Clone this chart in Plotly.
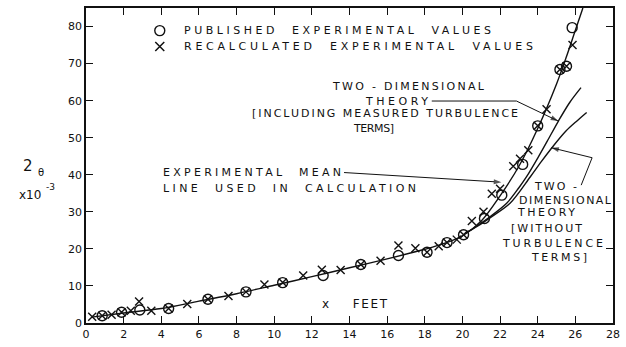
import json
import plotly.graph_objects as go

# ---------------- data ----------------
pub_x = [0.86, 1.89, 2.86, 4.39, 6.48, 8.5, 10.45, 12.6, 14.6, 16.6, 18.12, 19.18,
         20.06, 21.17, 22.09, 23.2, 24.0, 25.18, 25.53, 25.83]
pub_y = [1.95, 2.9, 3.5, 3.9, 6.4, 8.4, 10.9, 12.8, 15.8, 18.2, 19.1, 21.7,
         23.8, 28.2, 34.5, 42.8, 53.2, 68.4, 69.3, 79.7]

rec_x = [0.33, 0.86, 1.36, 1.89, 2.38, 2.82, 3.47, 4.39, 5.38, 6.48, 7.57, 8.5, 9.48,
         10.45, 11.54, 12.53, 13.53, 14.6, 15.65, 16.6, 17.5, 18.12, 18.74, 19.18,
         19.7, 20.06, 20.5, 21.12, 21.56, 22.0, 22.7, 23.06, 23.5, 24.0, 24.47,
         25.18, 25.53, 25.85]
rec_y = [1.7, 1.95, 2.2, 2.9, 3.3, 5.8, 3.3, 3.9, 5.1, 6.4, 7.3, 8.4, 10.4,
         10.9, 12.8, 14.4, 14.3, 15.8, 16.8, 20.9, 20.2, 19.1, 20.7, 21.7,
         22.5, 23.8, 27.5, 30.0, 34.9, 36.2, 42.3, 44.3, 46.6, 53.2, 57.7,
         68.4, 69.3, 75.0]

mean_x = [0.3, 2, 4, 6, 8, 10, 12, 14, 16, 18, 19, 20, 21, 22, 23, 24, 25, 25.5, 26, 26.4]
mean_y = [1.6, 2.7, 3.9, 5.9, 7.9, 10.2, 12.5, 14.9, 17.3, 19.9, 21.4, 23.5, 27.5,
          34.3, 42.3, 52.5, 64.5, 71.5, 79.0, 85.0]

incl_x = [20.15, 20.8, 21.5, 22.35, 23.0, 23.4, 24.0, 24.5, 25.1, 25.7, 26.3]
incl_y = [24.2, 26.3, 28.8, 32.3, 36.5, 39.4, 44.5, 49.0, 54.5, 59.5, 63.5]

wo_x = [20.15, 20.8, 21.5, 22.53, 23.6, 24.2, 24.85, 25.5, 26.1, 26.6]
wo_y = [24.2, 26.1, 28.5, 32.3, 39.4, 43.6, 47.9, 51.8, 54.6, 56.8]

x_ticks = list(range(0, 29, 2))
y_ticks = list(range(0, 81, 10))

# leader lines (polyline points, last point = arrow tip)
leader_incl_x = [18.37, 22.87, 25.09]
leader_incl_y = [59.9, 59.9, 54.5]
leader_mean_x = [13.71, 22.07]
leader_mean_y = [40.6, 38.0]
leader_wo_x = [26.31, 26.89, 24.72]
leader_wo_y = [37.2, 44.6, 47.3]

FONT = "DejaVu Sans"
INK = "#111111"

fig = go.Figure()
for xs, ys in [(mean_x, mean_y), (incl_x, incl_y), (wo_x, wo_y)]:
    fig.add_trace(go.Scatter(x=xs, y=ys, mode="lines",
                             line=dict(color=INK, width=1.4, shape="spline", smoothing=0.9)))
fig.add_trace(go.Scatter(x=pub_x, y=pub_y, mode="markers",
                         marker=dict(symbol="circle-open", size=10, color=INK,
                                     line=dict(width=1.4, color=INK))))
fig.add_trace(go.Scatter(x=rec_x, y=rec_y, mode="markers",
                         marker=dict(symbol="x-thin-open", size=8, color=INK,
                                     line=dict(width=1.4, color=INK))))
# legend symbols
fig.add_trace(go.Scatter(x=[3.92], y=[78.9], mode="markers",
                         marker=dict(symbol="circle-open", size=10, color=INK,
                                     line=dict(width=1.4, color=INK))))
fig.add_trace(go.Scatter(x=[3.92], y=[74.6], mode="markers",
                         marker=dict(symbol="x-thin-open", size=9, color=INK,
                                     line=dict(width=1.5, color=INK))))

# leader lines with arrowheads
for lx, ly in [(leader_incl_x, leader_incl_y), (leader_mean_x, leader_mean_y),
               (leader_wo_x, leader_wo_y)]:
    n = len(lx)
    fig.add_trace(go.Scatter(
        x=lx, y=ly, mode="lines+markers", cliponaxis=False,
        line=dict(color=INK, width=1),
        marker=dict(symbol=["circle"] * (n - 1) + ["arrow"],
                    size=[0] * (n - 1) + [8], angleref="previous",
                    color=INK, line=dict(width=0)),
    ))

# text labels: (text, x, y, target width px, font size)
labels = [
    ("PUBLISHED  EXPERIMENTAL  VALUES", 5.13, 78.9, 307, 11),
    ("RECALCULATED  EXPERIMENTAL  VALUES", 5.13, 74.6, 349, 11),
    ("TWO - DIMENSIONAL", 13.02, 63.9, 151, 11),
    ("THEORY", 14.77, 59.9, 62, 11),
    ("[INCLUDING MEASURED TURBULENCE", 8.79, 56.4, 266, 11),
    ("TERMS]", 14.13, 52.4, 40, 11),
    ("EXPERIMENTAL  MEAN", 4.02, 40.5, 178, 11),
    ("LINE  USED  IN  CALCULATION", 4.02, 36.4, 253, 11),
    ("TWO -", 23.77, 36.9, 42, 11),
    ("DIMENSIONAL", 22.97, 33.0, 92, 11),
    ("THEORY", 22.87, 29.8, 57, 11),
    ("[WITHOUT", 22.55, 25.4, 71, 11),
    ("TURBULENCE", 22.07, 21.4, 100, 11),
    ("TERMS]", 23.61, 17.6, 55, 11),
    ("x    FEET", 12.49, 5.1, 65, 12),
]

annotations = []
widths = {}
for i, (t, x, y, w, fs) in enumerate(labels):
    annotations.append(dict(text=t, x=x, y=y, xref="x", yref="y", xanchor="left",
                            yanchor="middle", showarrow=False, align="left",
                            borderpad=0, font=dict(family=FONT, size=fs, color=INK)))
    widths[i] = w

# y-axis title pieces (paper coordinates, left of the axis): (text, x, y, size)
ytitle_parts = [
    ("2", -0.111, 0.500, 15),
    ("θ", -0.086, 0.479, 10),
    ("x10", -0.107, 0.406, 12),
    ("-3", -0.068, 0.431, 9),
]
for t, x, y, fs in ytitle_parts:
    annotations.append(dict(text=t, x=x, y=y, xref="paper", yref="paper",
                            xanchor="center", yanchor="middle", showarrow=False,
                            font=dict(family=FONT, size=fs, color=INK)))

axis_common = dict(showline=True, linecolor=INK, linewidth=1.8, mirror="ticks",
                   ticks="inside", ticklen=7, tickwidth=1.4, tickcolor=INK,
                   showgrid=False, zeroline=False,
                   tickfont=dict(family=FONT, size=11, color=INK))

fig.update_layout(
    width=626, height=347,
    margin=dict(l=86, r=11, t=6, b=23),
    paper_bgcolor="white", plot_bgcolor="white",
    showlegend=False,
    xaxis=dict(range=[0, 28], tickvals=x_ticks, ticktext=[str(v) for v in x_ticks],
               **axis_common),
    yaxis=dict(range=[0, 85], tickvals=y_ticks, ticktext=[str(v) for v in y_ticks],
               **axis_common),
    annotations=annotations,
    hovermode=False,
)

post = """
var W = %s;
function fixText(){
  document.querySelectorAll('g.annotation').forEach(function(g){
    var i = g.getAttribute('data-index');
    if (W[i] !== undefined) {
      var t = g.querySelector('text.annotation-text');
      if (t) { t.setAttribute('textLength', W[i]); t.setAttribute('lengthAdjust', 'spacing'); }
    }
  });
}
fixText();
var gd = document.getElementById('{plot_id}');
if (gd && gd.on) { gd.on('plotly_afterplot', fixText); }
""" % json.dumps({str(k): v for k, v in widths.items()})

fig.write_html("out.html", post_script=post, config={"displayModeBar": False})
